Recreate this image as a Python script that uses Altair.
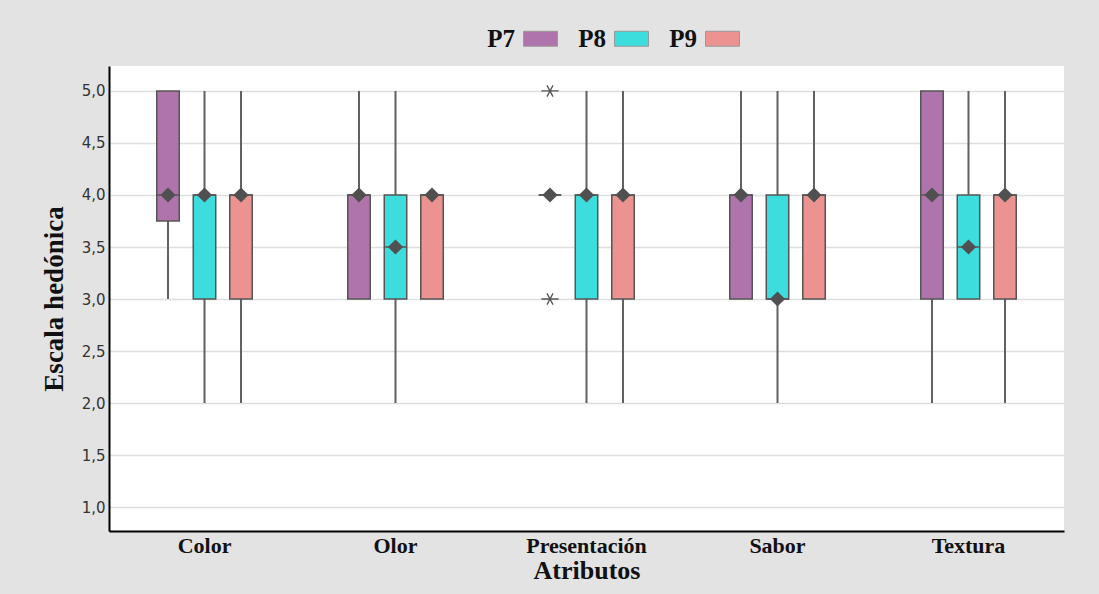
import altair as alt
import pandas as pd

# Hedonic scale scores summarised per attribute and product (Tukey boxplots)
atributos = ["Color", "Olor", "Presentación", "Sabor", "Textura"]
productos = ["P7", "P8", "P9"]
colores = ["#B074AC", "#3CDDDC", "#EC9391"]

# One value per (atributo, producto), products in order P7, P8, P9
bigote_inf = [3, 2, 2,   3, 2, 3,   4, 2, 2,   3, 2, 3,   2, 3, 2]
cuartil_1 = [3.75, 3, 3, 3, 3, 3,   4, 3, 3,   3, 3, 3,   3, 3, 3]
mediana = [4, 4, 4,      4, 3.5, 4, 4, 4, 4,   4, 3, 4,   4, 3.5, 4]
cuartil_3 = [5, 4, 4,    4, 4, 4,   4, 4, 4,   4, 4, 4,   5, 4, 4]
bigote_sup = [5, 5, 5,   5, 5, 4,   4, 5, 5,   5, 5, 5,   5, 5, 5]

# Extreme values
extremos_atributo = ["Presentación", "Presentación"]
extremos_producto = ["P7", "P7"]
extremos_valor = [5, 3]

marcas_y = [1.0, 1.5, 2.0, 2.5, 3.0, 3.5, 4.0, 4.5, 5.0]

filas = []
i = 0
for a in atributos:
    for p in productos:
        filas.append({
            "atributo": a, "producto": p,
            "inf": bigote_inf[i], "q1": cuartil_1[i], "med": mediana[i],
            "q3": cuartil_3[i], "sup": bigote_sup[i],
        })
        i += 1
cajas = pd.DataFrame(filas)
extremos = pd.DataFrame({
    "atributo": extremos_atributo,
    "producto": extremos_producto,
    "valor": extremos_valor,
})

x_enc = alt.X(
    "atributo:N", sort=atributos,
    scale=alt.Scale(paddingInner=0, paddingOuter=0),
    axis=alt.Axis(
        title="Atributos", labelAngle=0, ticks=False, grid=False,
        domainColor="#000000", domainWidth=2,
        labelFont="Liberation Serif", labelFontWeight="bold", labelFontSize=22,
        labelColor="#111111", labelPadding=4,
        titleFont="Liberation Serif", titleFontWeight="bold", titleFontSize=26,
        titleColor="#111111", titlePadding=1,
    ),
)
# products sit 36.5 px apart inside each 191 px attribute band
escala_off = alt.Scale(domain=productos, range=[47.75, 143.25], paddingInner=0.384, paddingOuter=0)
xoff_enc = alt.XOffset("producto:N", sort=productos, scale=escala_off)
escala_y = alt.Scale(domain=[0.77, 5.24], nice=False, zero=False)
eje_y = alt.Axis(
    title="Escala hedónica", values=marcas_y, format=".1f",
    labelExpr="replace(datum.label, '.', ',')",
    ticks=False, grid=True, gridColor="#dedede", gridWidth=1.5,
    domainColor="#000000", domainWidth=2,
    labelFont="DejaVu Sans", labelFontSize=15, labelColor="#333333", labelPadding=4,
    titleFont="Liberation Serif", titleFontWeight="bold", titleFontSize=27,
    titleColor="#111111", titlePadding=13,
)
color_enc = alt.Color(
    "producto:N", sort=productos,
    scale=alt.Scale(domain=productos, range=colores),
    legend=alt.Legend(
        title=None, orient="none", direction="horizontal",
        legendX=414, legendY=-45,
    ),
)

base = alt.Chart(cajas).encode(x=x_enc, xOffset=xoff_enc)

bigotes = base.mark_rule(color="#616161", strokeWidth=2).encode(
    y=alt.Y("inf:Q", scale=escala_y, axis=eje_y),
    y2="sup:Q",
)
caja = base.mark_bar(stroke="#555555", strokeWidth=1.5, opacity=1).encode(
    y=alt.Y("q1:Q", scale=escala_y, axis=eje_y),
    y2="q3:Q",
    color=color_enc,
)
# median line across the full box width
linea_mediana = base.mark_bar(fill="#555555", stroke="#555555", strokeWidth=1.5, opacity=1).encode(
    y=alt.Y("med:Q", scale=escala_y),
    y2="med:Q",
)
punto_mediana = base.mark_point(shape="diamond", filled=True, color="#505050", size=230, opacity=1).encode(
    y=alt.Y("med:Q", scale=escala_y),
)
asterisco = "M-1,0L1,0M-0.35,-0.65L0.35,0.65M-0.35,0.65L0.35,-0.65"
puntos_extremos = alt.Chart(extremos).mark_point(
    shape=asterisco, filled=False, stroke="#555555", strokeWidth=1.3, size=300, opacity=1,
).encode(
    x=alt.X("atributo:N", sort=atributos),
    xOffset=alt.XOffset("producto:N", sort=productos, scale=escala_off),
    y=alt.Y("valor:Q", scale=escala_y),
)

chart = alt.layer(
    bigotes, caja, linea_mediana, punto_mediana, puntos_extremos
).properties(
    width=955, height=465,
    autosize=alt.AutoSizeParams(type="none"),
    padding={"left": 109, "top": 66, "right": 35, "bottom": 63},
    background="#e3e3e3",
).configure_view(
    fill="#ffffff", stroke=None,
).configure_legend(
    labelFont="Liberation Serif", labelFontWeight="bold", labelFontSize=25,
    labelColor="#111111", labelAlign="right", labelOffset={"expr": "-43"},
    symbolType="M-1,-0.44H1V0.44H-1Z", symbolSize=1156,
    symbolStrokeColor="#999999", symbolStrokeWidth=1, symbolOpacity=1,
    columnPadding=18,
)

chart.save("out.html", embed_options={"renderer": "svg", "actions": False})
